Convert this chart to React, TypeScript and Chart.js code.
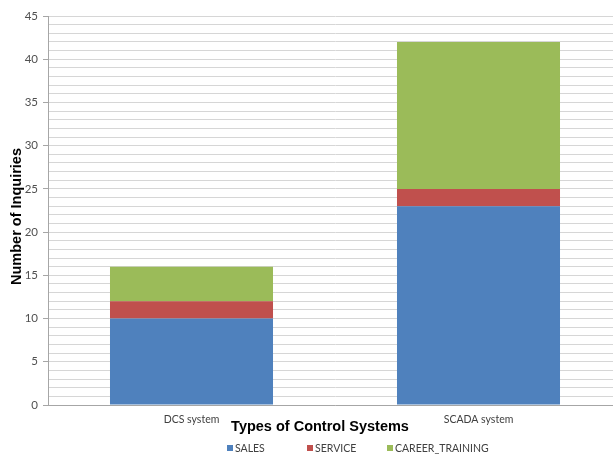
import React, { useEffect, useRef } from "react";
import { Chart, registerables } from "chart.js";

Chart.register(...registerables);

// Inquiry counts per control-system type
const categories = ["DCS system", "SCADA system"];
const salesValues = [10, 23];
const serviceValues = [2, 2];
const careerTrainingValues = [4, 17];
const seriesNames = ["SALES", "SERVICE", "CAREER_TRAINING"];
const yTickValues = [0, 5, 10, 15, 20, 25, 30, 35, 40, 45];

const xAxisTitle = "Types of Control Systems";
const yAxisTitle = "Number of Inquiries";

const COLORS = ["#4F81BD", "#C0504D", "#9BBB59"];
const TICK_FONT = "Lato, 'Liberation Sans', sans-serif";
const TITLE_FONT = "'Liberation Sans', Arial, sans-serif";

// Axis titles and the legend row are painted after the chart itself
const decorPlugin = {
  id: "decor",
  afterDraw(chart: any) {
    const { ctx, chartArea } = chart;
    ctx.save();
    ctx.fillStyle = "#000";
    ctx.font = `bold 14.5px ${TITLE_FONT}`;
    ctx.textAlign = "center";
    ctx.textBaseline = "middle";

    // vertical title
    ctx.save();
    ctx.translate(chartArea.left - 31, (chartArea.top + chartArea.bottom) / 2 + 6);
    ctx.rotate(-Math.PI / 2);
    ctx.fillText(yAxisTitle, 0, 0);
    ctx.restore();

    // horizontal title
    ctx.fillText(xAxisTitle, chartArea.left + 272, chartArea.bottom + 22);

    // legend
    ctx.font = `10.5px ${TICK_FONT}`;
    ctx.textAlign = "left";
    const y = chartArea.bottom + 43;
    let x = chartArea.left + 179;
    chart.data.datasets.forEach((ds: any) => {
      ctx.fillStyle = ds.backgroundColor;
      ctx.fillRect(x, y - 3, 6, 6);
      ctx.fillStyle = "#404040";
      ctx.fillText(ds.label, x + 8, y + 0.5);
      x += 80;
    });
    ctx.restore();
  },
};

export default function App() {
  const canvasRef = useRef<HTMLCanvasElement | null>(null);

  useEffect(() => {
    if (!canvasRef.current) return;
    const seriesValues = [salesValues, serviceValues, careerTrainingValues];
    const chart = new Chart(canvasRef.current, {
      type: "bar",
      data: {
        labels: categories,
        datasets: seriesNames.map((name, i) => ({
          label: name,
          data: seriesValues[i],
          backgroundColor: COLORS[i],
          borderWidth: 0,
          barPercentage: 0.568,
          categoryPercentage: 1,
        })),
      },
      options: {
        responsive: false,
        animation: false,
        layout: { padding: { top: 16, right: 8, bottom: 0, left: 0 } },
        plugins: {
          legend: { display: false },
          tooltip: { enabled: false },
          title: { display: false },
        },
        scales: {
          x: {
            stacked: true,
            offset: true,
            grid: { display: false, drawTicks: false },
            border: { display: true, color: "#a6a6a6", width: 1 },
            ticks: {
              padding: 8,
              color: "#404040",
              font: { family: TICK_FONT, size: 10.5 },
            },
            afterFit(scale: any) {
              scale.height = 49;
            },
          },
          y: {
            stacked: true,
            min: 0,
            max: 45,
            grid: {
              color: "#d6d6d6",
              lineWidth: 1,
              tickLength: 5,
              tickColor: (c: any) =>
                yTickValues.includes(c.tick?.value) ? "#a6a6a6" : "rgba(0,0,0,0)",
            },
            border: { display: true, color: "#a6a6a6", width: 1 },
            ticks: {
              stepSize: 1,
              autoSkip: false,
              padding: 5,
              color: "#505050",
              font: { family: TICK_FONT, size: 11.5 },
              callback: (v: any) => (yTickValues.includes(Number(v)) ? String(v) : ""),
            },
            afterFit(scale: any) {
              scale.width = 48;
            },
          },
        },
      },
      plugins: [decorPlugin],
    });
    return () => chart.destroy();
  }, []);

  return (
    <div
      style={{
        position: "fixed",
        left: 0,
        top: 0,
        width: 630,
        height: 454,
        background: "#fff",
        overflow: "hidden",
      }}
    >
      <canvas ref={canvasRef} width={630} height={454} />
    </div>
  );
}
